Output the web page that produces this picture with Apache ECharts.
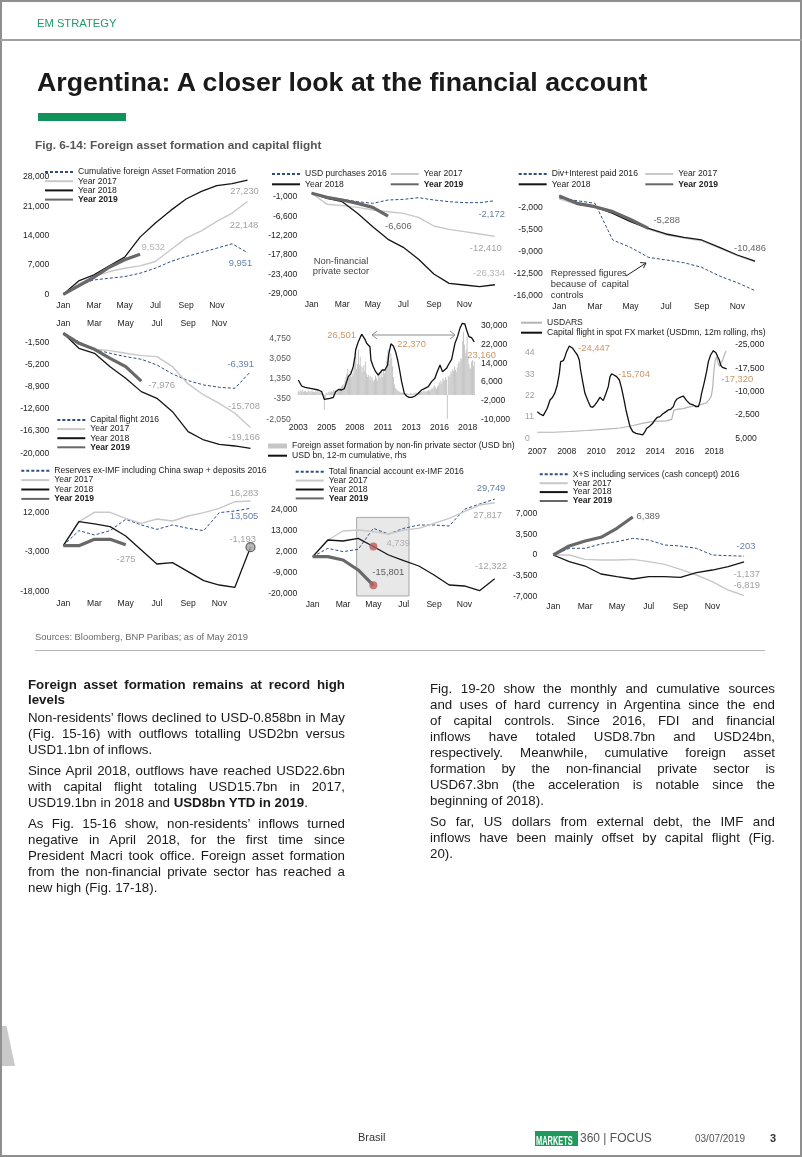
<!DOCTYPE html>
<html><head><meta charset="utf-8"><title>Argentina: A closer look at the financial account</title>
<script src="https://cdn.jsdelivr.net/npm/echarts@6/dist/echarts.min.js"></script>
<style>
html,body{margin:0;padding:0;background:#fff;}
#page{position:relative;width:802px;height:1157px;overflow:hidden;background:#fff;font-family:'Liberation Sans',Arial,sans-serif;color:#1a1a1a;}
#chart{position:absolute;left:0;top:0;width:802px;height:1157px;z-index:1;}
.abs{position:absolute;white-space:nowrap;z-index:2;}
.bl{position:absolute;z-index:2;white-space:nowrap;font-size:13.3px;line-height:16px;height:16px;}
.j{text-align:justify;text-align-last:justify;}
</style></head><body>
<div id="page">
<div id="chart"></div>
<div style="position:absolute;left:0;top:0;width:798px;height:1153px;border:2px solid #8f8f8f;z-index:3;pointer-events:none"></div>
<div style="position:absolute;left:0;top:39px;width:802px;height:0;border-top:2px solid #a0a0a0;z-index:3"></div>
<div style="position:absolute;left:2px;top:1026px;width:13px;height:40px;background:#c9c9c9;clip-path:polygon(0 0,35% 0,100% 100%,0 100%);z-index:2"></div>
<div class="abs" style="left:37px;top:16px;font-size:11.2px;line-height:14px;color:#1e9a6c;">EM STRATEGY</div>
<div class="abs" style="left:37px;top:69px;font-size:26.7px;line-height:27px;font-weight:bold;color:#1a1a1a;">Argentina: A closer look at the financial account</div>
<div style="position:absolute;left:38px;top:113px;width:88px;height:8px;background:#11925a;z-index:2"></div>
<div class="abs" style="left:35px;top:138px;font-size:11.8px;line-height:14px;font-weight:bold;color:#555;">Fig. 6-14: Foreign asset formation and capital flight</div>
<div class="abs" style="left:35px;top:631px;font-size:9.4px;line-height:12px;color:#6b6b6b;">Sources: Bloomberg, BNP Paribas; as of May 2019</div>
<div style="position:absolute;left:35px;top:650px;width:730px;height:0;border-top:1px solid #b5b5b5;z-index:2"></div>

<div class="bl j" style="left:28px;top:677px;width:317px;font-weight:bold">Foreign asset formation remains at record high</div>
<div class="bl" style="left:28px;top:692px;font-weight:bold">levels</div>
<div class="bl j" style="left:28px;top:710px;width:317px">Non-residents’ flows declined to USD-0.858bn in May</div>
<div class="bl j" style="left:28px;top:726px;width:317px">(Fig. 15-16) with outflows totalling USD2bn versus</div>
<div class="bl" style="left:28px;top:742px;">USD1.1bn of inflows.</div>
<div class="bl j" style="left:28px;top:763px;width:317px">Since April 2018, outflows have reached USD22.6bn</div>
<div class="bl j" style="left:28px;top:779px;width:317px">with capital flight totaling USD15.7bn in 2017,</div>
<div class="bl" style="left:28px;top:795px;">USD19.1bn in 2018 and <b>USD8bn YTD in 2019</b>.</div>
<div class="bl j" style="left:28px;top:816px;width:317px">As Fig. 15-16 show, non-residents’ inflows turned</div>
<div class="bl j" style="left:28px;top:832px;width:317px">negative in April 2018, for the first time since</div>
<div class="bl j" style="left:28px;top:848px;width:317px">President Macri took office. Foreign asset formation</div>
<div class="bl j" style="left:28px;top:864px;width:317px">from the non-financial private sector has reached a</div>
<div class="bl" style="left:28px;top:880px;">new high (Fig. 17-18).</div>

<div class="bl j" style="left:430px;top:681px;width:345px">Fig. 19-20 show the monthly and cumulative sources</div>
<div class="bl j" style="left:430px;top:697px;width:345px">and uses of hard currency in Argentina since the end</div>
<div class="bl j" style="left:430px;top:713px;width:345px">of capital controls. Since 2016, FDI and financial</div>
<div class="bl j" style="left:430px;top:729px;width:345px">inflows have totaled USD8.7bn and USD24bn,</div>
<div class="bl j" style="left:430px;top:745px;width:345px">respectively. Meanwhile, cumulative foreign asset</div>
<div class="bl j" style="left:430px;top:761px;width:345px">formation by the non-financial private sector is</div>
<div class="bl j" style="left:430px;top:777px;width:345px">USD67.3bn (the acceleration is notable since the</div>
<div class="bl" style="left:430px;top:793px;">beginning of 2018).</div>
<div class="bl j" style="left:430px;top:814px;width:345px">So far, US dollars from external debt, the IMF and</div>
<div class="bl j" style="left:430px;top:830px;width:345px">inflows have been mainly offset by capital flight (Fig.</div>
<div class="bl" style="left:430px;top:846px;">20).</div>

<div class="abs" style="left:358px;top:1130px;font-size:11px;line-height:14px;color:#333;">Brasil</div>
<div style="position:absolute;left:535px;top:1131px;width:43px;height:15px;background:#1f9a5c;z-index:2;overflow:hidden"><span style="display:inline-block;font-size:12px;line-height:15px;font-weight:bold;color:#fff;transform:scaleX(0.62);transform-origin:0 0;margin-left:1px;white-space:nowrap">MARKETS</span></div>
<div class="abs" style="left:580px;top:1131px;font-size:12px;line-height:15px;color:#555;">360 | FOCUS</div>
<div class="abs" style="left:695px;top:1132px;font-size:10px;line-height:14px;color:#555;">03/07/2019</div>
<div class="abs" style="left:770px;top:1131px;font-size:11px;line-height:15px;font-weight:bold;color:#333;">3</div>
</div>
<script>
// ---------------- DATA ----------------
const months = ['Jan','Feb','Mar','Apr','May','Jun','Jul','Aug','Sep','Oct','Nov','Dec'];
const monthTicks = [0, 2, 4, 6, 8, 10];

// Panel 1: cumulative foreign asset formation
const p1Names = ['Cumulative foreign Asset Formation 2016', 'Year 2017', 'Year 2018', 'Year 2019'];
const p1Y2016 = [0, 2230, 3430, 3830, 4230, 5030, 6230, 7820, 9020, 9980, 11010, 12050, 9951];
const p1Y2017 = [0, 2470, 4230, 5430, 6230, 6780, 7820, 10620, 13410, 15160, 17400, 19400, 22148];
const p1Y2018 = [0, 3190, 4630, 6780, 8860, 13650, 17000, 20030, 22750, 24580, 25940, 26420, 27230];
const p1Y2019 = [0, 2000, 4070, 6460, 8220, 9532];
const p1YTicks = [0, 7000, 14000, 21000, 28000];

// Panel 2: USD purchases, non-financial private sector
const p2Names = ['USD purchases 2016', 'Year 2017', 'Year 2018', 'Year 2019'];
const p2Y2016 = [0, -1000, -1770, -2440, -2920, -1960, -1770, -1290, -1960, -2440, -2730, -2730, -2172];
const p2Y2017 = [0, -3200, -3590, -4070, -4840, -5320, -5800, -6950, -9440, -10400, -11070, -11740, -12410];
const p2Y2018 = [0, -1480, -2440, -5800, -9630, -13280, -15580, -19030, -23250, -25940, -26410, -26900, -26334];
const p2Y2019 = [0, -1190, -1960, -2920, -4070, -6606];
const p2YTicks = [-29000, -23400, -17800, -12200, -6600, -1000];

// Panel 3: dividends + interest paid
const p3Names = ['Div+Interest paid 2016', 'Year 2017', 'Year 2018', 'Year 2019'];
const p3Y2016 = [-520, -890, -1310, -7120, -8290, -9870, -10290, -10720, -11460, -12830, -13890, -15150];
const p3Y2017 = [-600, -1500, -1950, -2800, -4100, -5400, -6300, -6800, -7250, -8400, -9600, -10600];
const p3Y2018 = [-100, -1420, -1840, -2900, -4220, -5280, -6170, -6700, -7120, -8290, -9500, -10486];
const p3Y2019 = [-150, -1310, -1840, -2630, -3850, -5288];
const p3YTicks = [-16000, -12500, -9000, -5500, -2000];

// Panel 4: capital flight
const p4Names = ['Capital flight 2016', 'Year 2017', 'Year 2018', 'Year 2019'];
const p4Y2016 = [0, -1390, -2670, -3330, -3890, -4330, -5280, -6780, -7890, -8610, -9000, -9170, -6391];
const p4Y2017 = [0, -1670, -2670, -2890, -3330, -3720, -3890, -5560, -8440, -10280, -11670, -13330, -15708];
const p4Y2018 = [0, -2500, -3330, -5560, -7500, -9720, -10830, -13060, -16390, -17780, -18500, -18780, -19166];
const p4Y2019 = [0, -1670, -2670, -4170, -5560, -7976];
const p4YTicks = [-20000, -16300, -12600, -8900, -5200, -1500];

// Panel 5: foreign asset formation by non-fin private sector (monthly bars from Jan 2003) + 12m cumulative line
const p5Names = ['Foreign asset formation by non-fin private sector (USD bn)', 'USD bn, 12-m cumulative, rhs'];
const p5BarStartYear = 2003;
const p5Bars = [
  300, 250, 400, 350, 300, 450, 250, 300, 350, 200, 250, 400,        // 2003
  250, 300, 200, 350, 300, 250, 200, 300, 250, 350, 300, 200,        // 2004
  250, 200, 300, 150, 100, -1250, -300, 200, 150, 100, 250, 300,     // 2005
  200, 300, 250, 400, 350, 300, 450, 400, 350, 500, 450, 600,        // 2006
  700, 800, 900, 600, 1200, 1500, 1800, 2200, 1400, 1700, 2000, 1500,// 2007
  1800, 1600, 2500, 2800, 3500, 2200, 2600, 3800, 2500, 3200, 2400, 1900, // 2008
  2300, 2500, 2000, 2800, 1800, 1500, 1700, 1400, 1600, 1200, 1500, 1300, // 2009
  1100, 1300, 1600, 1400, 1200, 1800, 1500, 1700, 1400, 1900, 1500, 2100, // 2010
  1800, 2200, 2800, 3300, 3800, 2600, 2900, 3500, 3100, 2400, 1500, 900,  // 2011
  600, 500, 400, 350, 300, 250, 200, 150, 200, 150, 100, 150,        // 2012
  100, 150, 100, 50, 100, 150, 100, 50, 100, 150, 100, 200,          // 2013
  150, 200, 250, 200, 300, 250, 200, 300, 350, 300, 250, 300,        // 2014
  350, 400, 300, 450, 500, 600, 500, 700, 800, 600, 500, 700,        // 2015
  800, 1000, 1200, 900, 1100, 1400, 1300, 1200, 1500, 1300, -2000, 1600, // 2016
  1500, 1700, 2000, 1800, 2200, 2000, 2400, 2100, 1900, 2300, 2600, 2800, // 2017
  2700, 3100, 3000, 4500, 5300, 4200, 3500, 3800, 4900, 3200, 2600, 2300, // 2018
  2200, 2800, 2900, 2400, 2800                                       // 2019
];
const p5LineX = [2003.00,2003.31,2003.62,2004.24,2004.86,2005.17,2005.41,2005.54,2005.94,2006.25,2006.46,2006.77,2007.02,2007.27,2007.49,2007.64,2007.89,2008.10,2008.26,2008.32,2008.57,2008.88,2009.19,2009.34,2009.65,2009.74,2009.96,2010.18,2010.42,2010.58,2010.79,2011.04,2011.29,2011.41,2011.60,2011.82,2012.03,2012.22,2012.40,2012.59,2012.84,2013.05,2013.27,2013.52,2013.83,2014.14,2014.44,2014.75,2015.06,2015.37,2015.68,2015.84,2015.99,2016.15,2016.30,2016.39,2016.55,2016.76,2016.92,2017.23,2017.38,2017.54,2017.78,2018.00,2018.22,2018.46,2018.62,2018.84,2019.08,2019.33];
const p5LineY = [6850,4278,3706,3135,2563,1849,-1438,-1724,-1009,-581,1849,2849,2563,3135,6136,8279,9708,12566,16853,19711,23284,26501,24284,22569,21140,15424,12566,10422,8994,9708,11137,11137,13281,18282,22370,21426,18997,15424,11137,6136,1135,-9,-581,-581,-9,1135,2563,3278,3992,6136,7565,9708,10422,13281,12566,10422,11137,11852,13281,15710,18997,22569,25427,29000,31143,30857,28285,25427,24999,23160];
const p5PeakIdx = [21, 34, 69];
const p5XTicks = [2003, 2005.62, 2008.24, 2010.86, 2013.48, 2016.1, 2018.72];
const p5XLabels = ['2003', '2005', '2008', '2011', '2013', '2016', '2018'];
const p5YLeftTicks = [-2050, -350, 1350, 3050, 4750];
const p5YRightTicks = [-10000, -2000, 6000, 14000, 22000, 30000];

// Panel 6: USDARS and capital flight in spot FX market
const p6Names = ['USDARS', 'Capital flight in spot FX market (USDmn, 12m rolling, rhs)'];
const p6FlightX = [2007.00,2007.17,2007.37,2007.48,2007.62,2007.79,2007.95,2008.10,2008.24,2008.37,2008.45,2008.62,2008.72,2008.82,2008.99,2009.07,2009.20,2009.34,2009.49,2009.61,2009.69,2009.82,2009.96,2010.17,2010.31,2010.44,2010.58,2010.73,2010.89,2011.00,2011.10,2011.27,2011.41,2011.52,2011.62,2011.76,2011.93,2012.10,2012.24,2012.39,2012.51,2012.66,2012.76,2012.93,2013.13,2013.28,2013.55,2013.69,2013.80,2014.00,2014.17,2014.31,2014.46,2014.62,2014.79,2015.00,2015.14,2015.29,2015.45,2015.56,2015.66,2015.87,2016.07,2016.18,2016.28,2016.38,2016.49,2016.70,2016.86,2017.01,2017.11,2017.21,2017.36,2017.52,2017.63,2017.77,2017.94,2018.10,2018.21,2018.31,2018.39,2018.50,2018.60,2018.77];
const p6FlightY = [-3572,-2822,-2286,-2500,-4643,-7322,-8179,-9679,-12143,-15893,-19643,-19964,-21250,-22857,-24679,-24447,-23929,-22857,-21786,-20179,-16964,-13215,-9464,-6786,-5179,-4964,-5714,-6786,-8179,-7857,-7107,-9464,-11607,-14822,-15704,-15357,-14822,-13750,-11072,-7322,-4107,-893,1250,2857,3393,3607,3929,2857,1786,1036,179,-893,-1750,-1964,-2822,-3572,-4107,-4322,-5179,-6786,-7536,-8179,-8607,-7857,-7107,-6464,-6036,-5714,-5179,-5179,-6786,-9464,-12679,-16429,-19643,-21786,-23179,-22536,-21250,-20179,-18572,-17822,-17179,-17320];
const p6PeakIdx = [15, 34, 83];
const p6UsdX = [2007.00,2007.99,2009.03,2010.07,2011.31,2012.14,2012.97,2013.59,2014.21,2015.04,2015.35,2015.49,2015.76,2016.07,2016.38,2016.70,2017.01,2017.32,2017.52,2017.69,2017.81,2017.90,2017.98,2018.06,2018.15,2018.23,2018.31,2018.42,2018.52,2018.62,2018.73];
const p6UsdY = [3.1,3.1,3.5,4.0,4.7,5.3,6.6,7.8,8.7,9.0,9.7,14.5,15.0,15.3,16.0,16.7,17.0,17.7,18.3,20.0,21.7,26.2,35.3,40.3,42.0,38.7,37.0,37.8,40.3,42.8,45.0];
const p6XTicks = [2007, 2008.833, 2010.667, 2012.5, 2014.333, 2016.167, 2018.0];
const p6XLabels = ['2007', '2008', '2010', '2012', '2014', '2016', '2018'];
const p6YLeftTicks = [0, 11, 22, 33, 44];
const p6YRightTicks = [-25000, -17500, -10000, -2500, 5000];

// Panel 7: reserves ex-IMF
const p7Names = ['Reserves ex-IMF including China swap + deposits 2016', 'Year 2017', 'Year 2018', 'Year 2019'];
const p7Y2016 = [-600, 5070, 3430, 5070, 9350, 7210, 5570, 7210, 5950, 5070, 11870, 12500, 13505];
const p7Y2017 = [-600, 8470, 12000, 12000, 9730, 7840, 9480, 8720, 10610, 11870, 13510, 16000, 16283];
const p7Y2018 = [-600, 8470, 7590, 6580, 3050, -2240, -7530, -7030, -10430, -13830, -15470, -16350, -1193];
const p7Y2019 = [-600, -600, 1800, 1800, -275];
const p7YTicks = [-18000, -3000, 12000];

// Panel 8: total financial account ex-IMF
const p8Names = ['Total financial account ex-IMF 2016', 'Year 2017', 'Year 2018', 'Year 2019'];
const p8Y2016 = [-640, 3760, 2000, 3230, 14320, 11330, 14320, 16080, 16080, 15550, 24350, 27170, 29749];
const p8Y2017 = [-640, 8160, 12910, 13440, 12560, 11330, 13440, 14320, 16960, 19600, 23120, 26640, 27817];
const p8Y2018 = [-640, 8160, 7630, 9040, 4739, 240, -2750, -5570, -10320, -15600, -16130, -18590, -12322];
const p8Y2019 = [-640, -640, -2400, -7680, -15801];
const p8BoxX = [2.9, 6.35];
const p8BoxY = [20100, -21400];
const p8YTicks = [-20000, -9000, 2000, 13000, 24000];

// Panel 9: X+S including services
const p9Names = ['X+S including services (cash concept) 2016', 'Year 2017', 'Year 2018', 'Year 2019'];
const p9Y2016 = [0, 1120, 1120, 1850, 2240, 2800, 2520, 1680, 1510, 1120, 0, -110, -203];
const p9Y2017 = [0, 0, -730, -840, -840, -730, -1120, -1570, -2410, -3360, -4480, -5880, -6819];
const p9Y2018 = [0, -1120, -1850, -3190, -3640, -4030, -3640, -3640, -3750, -2970, -2520, -1960, -1137];
const p9Y2019 = [0, 1510, 2350, 2970, 4480, 6389];
const p9YTicks = [-7000, -3500, 0, 3500, 7000];

// ---------------- BUILD ----------------
const FONT = "'Liberation Sans', Arial, sans-serif";
const FS = 8.6;
const fmt = v => Math.round(v).toLocaleString('en-US');
const nearest = (arr, v) => { let b = 0; arr.forEach((a, i) => { if (Math.abs(a - v) < Math.abs(arr[b] - v)) b = i; }); return b; };
const C = { blue: '#3d5e92', gray: '#8a8a8a', lgray: '#a3a3a3', dark: '#3a3a3a', orange: '#c27a3c' };
const STY = {
  d16: { color: '#2f4d7e', width: 1, type: [3, 2] },
  y17: { color: '#c8c8c8', width: 1.4 },
  y18: { color: '#151515', width: 1.3 },
  y19: { color: '#686868', width: 3.2 }
};

const chart = echarts.init(document.getElementById('chart'), null, { renderer: 'canvas', width: 802, height: 1157 });
const opt = { animation: false, textStyle: { fontFamily: FONT }, grid: [], xAxis: [], yAxis: [], series: [], legend: [], graphic: [] };
const AX = { axisLine: { show: false }, axisTick: { show: false }, splitLine: { show: false } };
const lbl = extra => Object.assign({ fontFamily: FONT, fontSize: FS, color: '#222' }, extra);

function grid(l, t, w, h) { opt.grid.push({ left: l, top: t, width: w, height: h, containLabel: false }); return opt.grid.length - 1; }
function xAxis(gi, o) { opt.xAxis.push(Object.assign({ gridIndex: gi, type: 'value' }, AX, o)); return opt.xAxis.length - 1; }
function yAxis(gi, o) { opt.yAxis.push(Object.assign({ gridIndex: gi, type: 'value' }, AX, o)); return opt.yAxis.length - 1; }
function monthX(gi, max, margin, position) {
  return xAxis(gi, { min: 0, max: max, position: position || 'bottom',
    axisLabel: lbl({ customValues: monthTicks, margin: margin, formatter: v => months[Math.round(v)] }) });
}
function valY(gi, min, max, ticks, margin, extra, lblExtra) {
  return yAxis(gi, Object.assign({ min: min, max: max,
    axisLabel: lbl(Object.assign({ customValues: ticks, margin: margin, formatter: v => fmt(v) }, lblExtra || {})) }, extra || {}));
}
function line(name, xi, yi, xs, ys, sty, extra) {
  opt.series.push(Object.assign({ type: 'line', name: name, xAxisIndex: xi, yAxisIndex: yi,
    data: ys.map((v, i) => [xs ? xs[i] : i, v]), symbol: 'none', clip: false, silent: true,
    lineStyle: Object.assign({}, sty), itemStyle: { color: sty.color }, z: 3 }, extra || {}));
}
function notes(xi, yi, items) {
  opt.series.push({ type: 'scatter', xAxisIndex: xi, yAxisIndex: yi, symbolSize: 1, silent: true,
    itemStyle: { color: 'rgba(0,0,0,0)' }, z: 8,
    data: items.map(n => ({ value: [n[0], n[1]], label: { show: true, position: 'inside', formatter: fmt(n[1]),
      color: n[2], offset: [n[3], n[4]], fontFamily: FONT, fontSize: 9.4 } })) });
}
function legend(textX, rowY, names, rowGap, extra) {
  const ih = 9;
  opt.legend.push(Object.assign({ left: textX - 33, top: rowY - ih / 2, orient: 'vertical', itemWidth: 28, itemHeight: ih,
    itemGap: rowGap - ih, padding: 0, selectedMode: false,
    itemStyle: { color: 'rgba(0,0,0,0)', borderWidth: 0, opacity: 0 },
    textStyle: { fontFamily: FONT, fontSize: FS, color: '#222', lineHeight: ih, padding: 0 },
    data: names.map(n => n === 'Year 2019' ? { name: n, textStyle: { fontWeight: 'bold' } } : { name: n }) }, extra || {}));
}
function text(x, y, s, color, align, size) {
  opt.graphic.push({ type: 'text', x: x, y: y, z: 20, silent: true,
    style: { text: s, fill: color, font: (size || FS) + 'px ' + FONT, align: align || 'left', verticalAlign: 'middle',
      textAlign: align || 'left', textVerticalAlign: 'middle' } });
}
function seg(pts, color, w) {
  opt.graphic.push({ type: 'polyline', z: 20, silent: true, shape: { points: pts }, style: { stroke: color, lineWidth: w || 1, fill: null } });
}
function fourLines(names, xi, yi, d16, d17, d18, d19) {
  line(names[0], xi, yi, null, d16, STY.d16);
  line(names[1], xi, yi, null, d17, STY.y17);
  line(names[2], xi, yi, null, d18, STY.y18);
  line(names[3], xi, yi, null, d19, STY.y19);
}

// Panel 1
{
  const g = grid(63.3, 177, 184.2, 117.3);
  const xi = monthX(g, 12, 6.5), yi = valY(g, 0, 28000, p1YTicks, 14);
  fourLines(p1Names, xi, yi, p1Y2016, p1Y2017, p1Y2018, p1Y2019);
  notes(xi, yi, [
    [12, p1Y2018[12], C.gray, -3, 11.5], [12, p1Y2017[12], C.gray, -3.5, 23.5],
    [5, p1Y2019[5], C.lgray, 13.3, -7], [12, p1Y2016[12], C.blue, -7, 10.7]]);
  legend(77, 172, p1Names, 9.2);
}
// Panel 2
{
  const g = grid(311.7, 177.2, 183.2, 116.8);
  const xi = monthX(g, 12, 6), yi = valY(g, -29000, 4600, p2YTicks, 14.4);
  fourLines(p2Names, xi, yi, p2Y2016, p2Y2017, p2Y2018, p2Y2019);
  notes(xi, yi, [
    [12, p2Y2016[12], C.blue, -3.2, 13.2], [5, p2Y2019[5], C.dark, 10.3, 10.5],
    [12, p2Y2017[12], C.gray, -9.2, 11.9], [12, p2Y2018[12], C.lgray, -5.9, -11.5]]);
  legend(304, 174, [p2Names[0], p2Names[2]], 10.3);
  legend(422.7, 174, [p2Names[1], p2Names[3]], 10.3);
  text(341, 261, 'Non-financial', '#444', 'center', 9.4);
  text(341, 271.7, 'private sector', '#444', 'center', 9.4);
}
// Panel 3
{
  const g = grid(559.3, 185.6, 195.8, 110.4);
  const xi = monthX(g, 11, 6.5), yi = valY(g, -16000, 1500, p3YTicks, 16.6);
  fourLines(p3Names, xi, yi, p3Y2016, p3Y2017, p3Y2018, p3Y2019);
  notes(xi, yi, [[5, p3Y2019[5], C.dark, 18.4, -7.8], [11, p3Y2018[11], C.dark, -5.1, -13]]);
  legend(550.7, 174, [p3Names[0], p3Names[2]], 10.3);
  legend(677.3, 174, [p3Names[1], p3Names[3]], 10.3);
  text(550.7, 273.3, 'Repressed figures', '#333', 'left', 9.4);
  text(550.7, 284, 'because of  capital', '#333', 'left', 9.4);
  text(550.7, 295, 'controls', '#333', 'left', 9.4);
  seg([[626, 276], [646, 263]], '#222', 1);
  seg([[640.2, 262.6], [646, 263], [643.5, 268]], '#222', 1);
}
// Panel 4
{
  const g = grid(63.3, 333.3, 187.2, 120);
  const xi = monthX(g, 12, 5, 'top'), yi = valY(g, -20000, 0, p4YTicks, 14);
  fourLines(p4Names, xi, yi, p4Y2016, p4Y2017, p4Y2018, p4Y2019);
  notes(xi, yi, [
    [12, p4Y2016[12], C.blue, -9.8, -7.6], [5, p4Y2019[5], C.gray, 20.4, 3.8],
    [12, p4Y2017[12], C.gray, -6.5, -20.8], [12, p4Y2018[12], C.gray, -6.5, -10.6]]);
  legend(89.3, 420, p4Names, 9.1);
}
// Panel 5
{
  const g = grid(298.3, 326, 176.7, 93.3);
  const xi = xAxis(g, { min: 2003, max: 2019.4,
    axisLabel: lbl({ customValues: p5XTicks, margin: 4, formatter: v => p5XLabels[nearest(p5XTicks, v)] }) });
  const yl = valY(g, -2050, 5783, p5YLeftTicks, 7.6, null, { color: '#555' });
  const yr = valY(g, -10000, 30000, p5YRightTicks, 6, { position: 'right' });
  opt.series.push({ type: 'bar', name: p5Names[0], xAxisIndex: xi, yAxisIndex: yl, barWidth: 0.9, silent: true,
    itemStyle: { color: '#c6c6c6' }, z: 2,
    data: p5Bars.map((v, i) => [p5BarStartYear + i / 12, v]) });
  line(p5Names[1], xi, yr, p5LineX, p5LineY, { color: '#111', width: 1.3 });
  notes(xi, yr, [
    [p5LineX[p5PeakIdx[0]], p5LineY[p5PeakIdx[0]], C.orange, -20, 0.8],
    [p5LineX[p5PeakIdx[1]], p5LineY[p5PeakIdx[1]], C.orange, 20.7, 0.5],
    [p5LineX[p5PeakIdx[2]], p5LineY[p5PeakIdx[2]], C.orange, 7.4, 13]]);
  opt.legend.push({ left: 267, top: 441.5, orient: 'vertical', itemWidth: 19, itemHeight: 9, itemGap: 0.7, padding: 0,
    selectedMode: false, itemStyle: { color: 'rgba(0,0,0,0)', borderWidth: 0, opacity: 0 },
    textStyle: { fontFamily: FONT, fontSize: FS, color: '#222', lineHeight: 9, padding: 0 },
    data: [{ name: p5Names[0], icon: 'path://M0,2H19V7H0Z', itemStyle: { color: '#c6c6c6', opacity: 1 } }, { name: p5Names[1] }] });
  seg([[372, 335], [455, 335]], '#8c8c8c', 1);
  seg([[377, 331], [372, 335], [377, 339]], '#8c8c8c', 1);
  seg([[450, 331], [455, 335], [450, 339]], '#8c8c8c', 1);
}
// Panel 6
{
  const g = grid(537.3, 345, 189.9, 93.3);
  const xi = xAxis(g, { min: 2007, max: 2018.8,
    axisLabel: lbl({ customValues: p6XTicks, margin: 9, formatter: v => p6XLabels[nearest(p6XTicks, v)] }) });
  const yl = valY(g, 0, 48, p6YLeftTicks, 12.3, null, { color: '#a0a0a0', align: 'left' });
  const yr = valY(g, -25000, 5000, p6YRightTicks, 8, { position: 'right', inverse: true });
  line(p6Names[0], xi, yl, p6UsdX, p6UsdY, { color: '#b4b4b4', width: 1.2 });
  line(p6Names[1], xi, yr, p6FlightX, p6FlightY, { color: '#111', width: 1.3 });
  notes(xi, yr, [
    [p6FlightX[p6PeakIdx[0]], p6FlightY[p6PeakIdx[0]], C.orange, 23.4, 1.6],
    [p6FlightX[p6PeakIdx[1]], p6FlightY[p6PeakIdx[1]], C.orange, 22.4, 0.1],
    [p6FlightX[p6PeakIdx[2]], p6FlightY[p6PeakIdx[2]], C.orange, 10.6, 10.4]]);
  opt.legend.push({ left: 520, top: 318.2, orient: 'vertical', itemWidth: 21, itemHeight: 9, itemGap: 1, padding: 0,
    selectedMode: false, itemStyle: { color: 'rgba(0,0,0,0)', borderWidth: 0, opacity: 0 },
    textStyle: { fontFamily: FONT, fontSize: FS, color: '#222', lineHeight: 9, padding: 0 },
    data: [{ name: p6Names[0] }, { name: p6Names[1] }] });
}
// Panel 7
{
  const g = grid(63.3, 472.6, 187.2, 119.1);
  const xi = monthX(g, 12, 7), yi = valY(g, -18000, 27000, p7YTicks, 14);
  fourLines(p7Names, xi, yi, p7Y2016, p7Y2017, p7Y2018, p7Y2019);
  opt.series.push({ type: 'scatter', xAxisIndex: xi, yAxisIndex: yi, symbolSize: 9, silent: true, z: 7,
    itemStyle: { color: '#a2a2a2', borderColor: '#444', borderWidth: 1.2 }, data: [[12, p7Y2018[12]]] });
  notes(xi, yi, [
    [12, p7Y2017[12], C.gray, -6.5, -7.7], [12, p7Y2016[12], C.blue, -6.5, 8.4],
    [12, p7Y2018[12], C.gray, -7.8, -7.9], [4, p7Y2019[4], C.gray, 0.3, 14.5]]);
  legend(53.3, 470.7, p7Names, 9.4);
}
// Panel 8
{
  const g = grid(312.7, 489.2, 182, 107.9);
  const xi = monthX(g, 12, 3), yi = valY(g, -22000, 35000, p8YTicks, 15.4);
  line(p8Names[0], xi, yi, null, p8Y2016, STY.d16, { markArea: { silent: true, z: 1,
    itemStyle: { color: '#e8e8e8', borderColor: '#a5a5a5', borderWidth: 1 },
    data: [[{ xAxis: p8BoxX[0], yAxis: p8BoxY[0] }, { xAxis: p8BoxX[1], yAxis: p8BoxY[1] }]] } });
  line(p8Names[1], xi, yi, null, p8Y2017, STY.y17);
  line(p8Names[2], xi, yi, null, p8Y2018, STY.y18);
  line(p8Names[3], xi, yi, null, p8Y2019, STY.y19);
  opt.series.push({ type: 'scatter', xAxisIndex: xi, yAxisIndex: yi, symbolSize: 8, silent: true, z: 7,
    itemStyle: { color: '#b65e5c' }, data: [[4, p8Y2018[4]], [4, p8Y2019[4]]] });
  notes(xi, yi, [
    [12, p8Y2016[12], C.blue, -3.7, -10.8], [12, p8Y2017[12], C.gray, -7, 12.2],
    [4, p8Y2018[4], C.lgray, 24.9, -3.2], [4, p8Y2019[4], C.dark, 14.9, -12.6],
    [12, p8Y2018[12], C.gray, -3.7, -12.8]]);
  legend(327.7, 471.7, p8Names, 8.9);
}
// Panel 9
{
  const g = grid(553.3, 513.3, 190.8, 83.4);
  const xi = monthX(g, 12, 5), yi = valY(g, -7000, 7000, p9YTicks, 16);
  fourLines(p9Names, xi, yi, p9Y2016, p9Y2017, p9Y2018, p9Y2019);
  notes(xi, yi, [
    [5, p9Y2019[5], C.dark, 15.5, -0.2], [12, p9Y2016[12], C.blue, 1.9, -9.5],
    [12, p9Y2018[12], C.gray, 2.6, 12.5], [12, p9Y2017[12], C.gray, 2.6, -10.6]]);
  legend(571.7, 474.3, p9Names, 8.9);
}

chart.setOption(opt);
</script>
</body></html>
